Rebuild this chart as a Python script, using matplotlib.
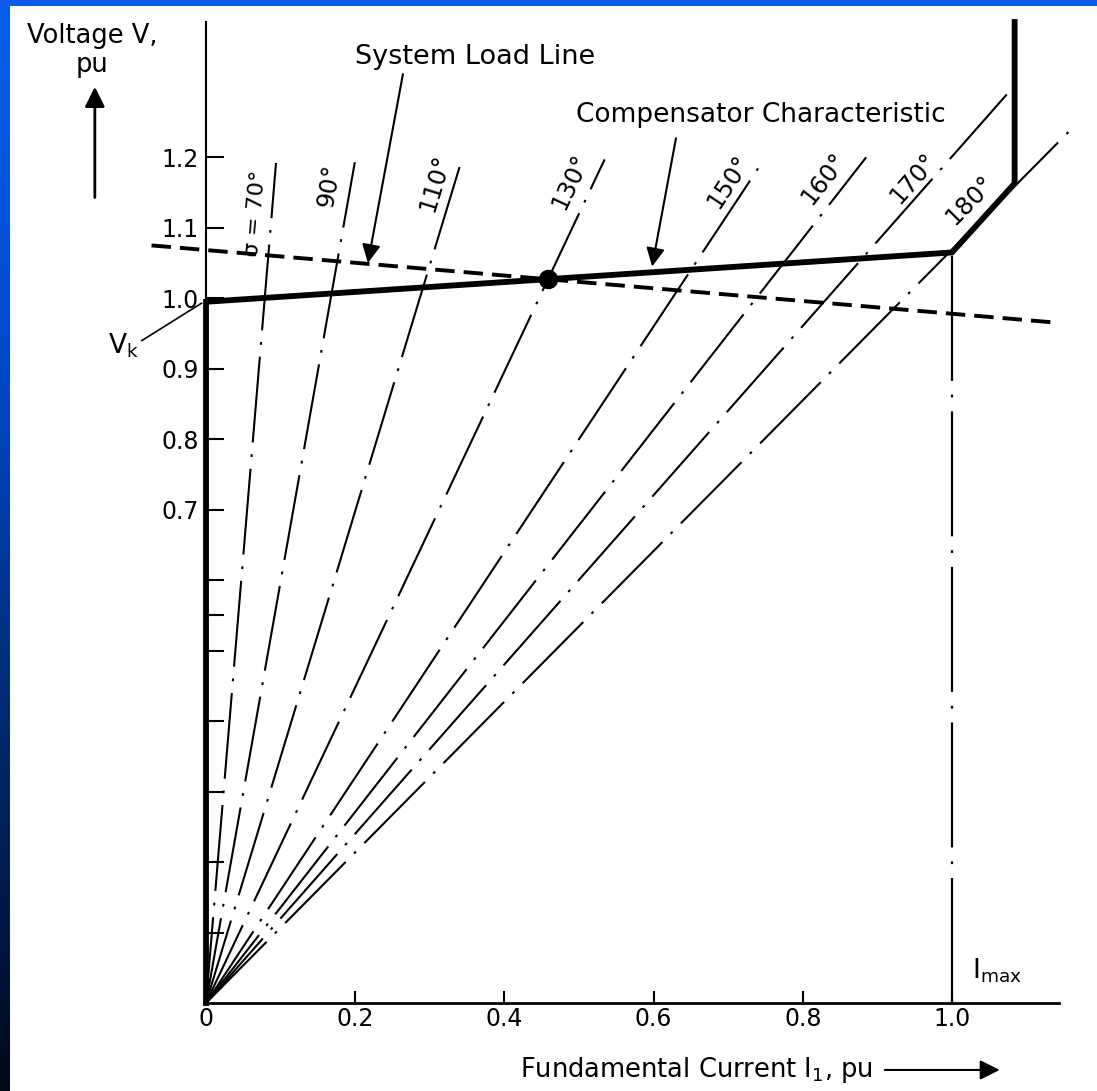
import numpy as np
import matplotlib
matplotlib.use("Agg")
import matplotlib.pyplot as plt
from matplotlib.colors import LinearSegmentedColormap
from matplotlib.patches import Rectangle

plt.rcParams["font.family"] = ["DejaVu Sans"]
plt.rcParams["lines.scale_dashes"] = False

# ---------------- data ----------------
ray_angles = [70, 90, 110, 130, 150, 160, 170, 180]
ray_labels = ["σ = 70°", "90°", "110°", "130°", "150°", "160°", "170°", "180°"]
ray_slopes = [12.7, 5.98, 3.49, 2.24, 1.60, 1.356, 1.201, 1.069]      # V / I of each line
ray_top_V = [1.192, 1.193, 1.196, 1.197, 1.198, 1.200, 1.297, 1.243]

comp_I = [0.0, 0.0, 1.0, 1.084, 1.084]
comp_V = [0.0, 0.995, 1.065, 1.163, 1.392]

load_I = [-0.073, 1.133]
load_V = [1.075, 0.966]

op_I = [0.458]
op_V = [1.027]

imax_I = [1.0, 1.0]
imax_V = [0.0, 1.065]

x_ticks = [0, 0.2, 0.4, 0.6, 0.8, 1.0]
x_tick_labels = ["0", "0.2", "0.4", "0.6", "0.8", "1.0"]
y_ticks = [0.7, 0.8, 0.9, 1.0, 1.1, 1.2]
y_tick_labels = ["0.7", "0.8", "0.9", "1.0", "1.1", "1.2"]
y_minor_ticks = [0.1, 0.2, 0.3, 0.4, 0.5, 0.55, 0.6]

# label placement (annotation positions)
ray_label_pos = [(0.066, 1.120), (0.166, 1.160), (0.307, 1.163), (0.488, 1.165),
                 (0.700, 1.165), (0.8275, 1.170), (0.948, 1.170), (1.024, 1.139)]

# ---------------- figure ----------------
W, H = 1097, 1091
fig = plt.figure(figsize=(W / 100, H / 100), dpi=100, facecolor="white")

# slide-like blue frame (left strip gradient + top strip)
bg = fig.add_axes([0, 0, 10 / W, 1], zorder=-5)
cmap = LinearSegmentedColormap.from_list(
    "slide", [(0.0, "#0A60EA"), (0.35, "#0049C4"), (0.6, "#00307F"),
              (0.8, "#001D4E"), (1.0, "#00091C")])
bg.imshow(np.linspace(0, 1, 256).reshape(-1, 1), cmap=cmap, aspect="auto")
bg.set_axis_off()
fig.patches.append(Rectangle((0, 1 - 6 / H), 1, 6 / H, transform=fig.transFigure,
                             facecolor="#0A5CE6", edgecolor="none", zorder=-4))

ax = fig.add_axes([206 / W, (H - 1003) / H, 853.4 / W, 981 / H])
ax.set_xlim(0, 1.144)
ax.set_ylim(0, 1.392)
for s in ["top", "right"]:
    ax.spines[s].set_visible(False)
ax.spines["left"].set_linewidth(1.5)
ax.spines["bottom"].set_linewidth(2.0)

ax.set_xticks(x_ticks)
ax.set_xticklabels(x_tick_labels, fontsize=17)
ax.set_yticks(y_ticks)
ax.set_yticklabels(y_tick_labels, fontsize=17)
ax.set_yticks(y_minor_ticks, minor=True)
ax.tick_params(axis="y", which="both", direction="in", length=13, width=1.5, pad=5)
ax.tick_params(axis="x", which="both", direction="in", length=9, width=1.5, pad=3)

# rays from the origin (dash-dot)
ray_dash = (0, (62, 8.5, 2.0, 8.5))
for slope, vtop in zip(ray_slopes, ray_top_V):
    ax.plot([0, vtop / slope], [0, vtop], color="black", lw=1.5,
            linestyle=ray_dash, clip_on=False, zorder=2)

for lab, slope, (lx, ly) in zip(ray_labels, ray_slopes, ray_label_pos):
    ax.text(lx, ly, lab, fontsize=17.5 if lab != "σ = 70°" else 16,
            rotation=np.degrees(np.arctan(slope)), transform_rotates_text=True,
            rotation_mode="anchor", ha="center", va="center", zorder=5)

# I_max line
ax.plot(imax_I, imax_V, color="black", lw=1.6, linestyle=(0, (90, 10, 2.0, 10)),
        zorder=2)

# system load line
ax.plot(load_I, load_V, color="black", lw=2.8, linestyle=(0, (14, 6.5)),
        clip_on=False, zorder=3)

# compensator characteristic
ax.plot(comp_I, comp_V, color="black", lw=4.2, solid_joinstyle="miter",
        clip_on=False, zorder=4)

# operating point
ax.plot(op_I, op_V, "o", color="black", markersize=13, zorder=6)

# annotations
arrow_kw = dict(arrowstyle="-|>", color="black", lw=1.5, mutation_scale=28,
                shrinkA=0, shrinkB=0)
ax.annotate("", xy=(0.217, 1.050), xytext=(0.264, 1.318),
            arrowprops=arrow_kw, annotation_clip=False)
ax.text(0.3606, 1.342, "System Load Line", fontsize=19.5, ha="center", va="center")

ax.annotate("", xy=(0.598, 1.045), xytext=(0.630, 1.227),
            arrowprops=arrow_kw, annotation_clip=False)
ax.text(0.744, 1.260, "Compensator Characteristic", fontsize=19,
        ha="center", va="center")

ax.text(-0.153, 1.352, "Voltage V,\npu", fontsize=18.5, ha="center", va="center",
        linespacing=1.15, clip_on=False)
ax.annotate("", xy=(-0.149, 1.300), xytext=(-0.149, 1.143),
            arrowprops=dict(arrowstyle="-|>", color="black", lw=2.0,
                            mutation_scale=30, shrinkA=0, shrinkB=0),
            annotation_clip=False)

ax.plot([-0.086, -0.006], [0.940, 0.993], color="black", lw=1.2, clip_on=False)
ax.text(-0.111, 0.933, r"V$_\mathrm{k}$", fontsize=19, ha="center", va="center",
        clip_on=False)

ax.text(1.060, 0.046, r"I$_\mathrm{max}$", fontsize=19, ha="center", va="center")

ax.text(0.894, -0.095, r"Fundamental Current I$_1$, pu", fontsize=18.5,
        ha="right", va="center", clip_on=False)
ax.annotate("", xy=(1.064, -0.095), xytext=(0.910, -0.095),
            arrowprops=dict(arrowstyle="-|>", color="black", lw=1.5,
                            mutation_scale=30, shrinkA=0, shrinkB=0),
            annotation_clip=False)

fig.savefig("out.png", dpi=100, facecolor="white")
